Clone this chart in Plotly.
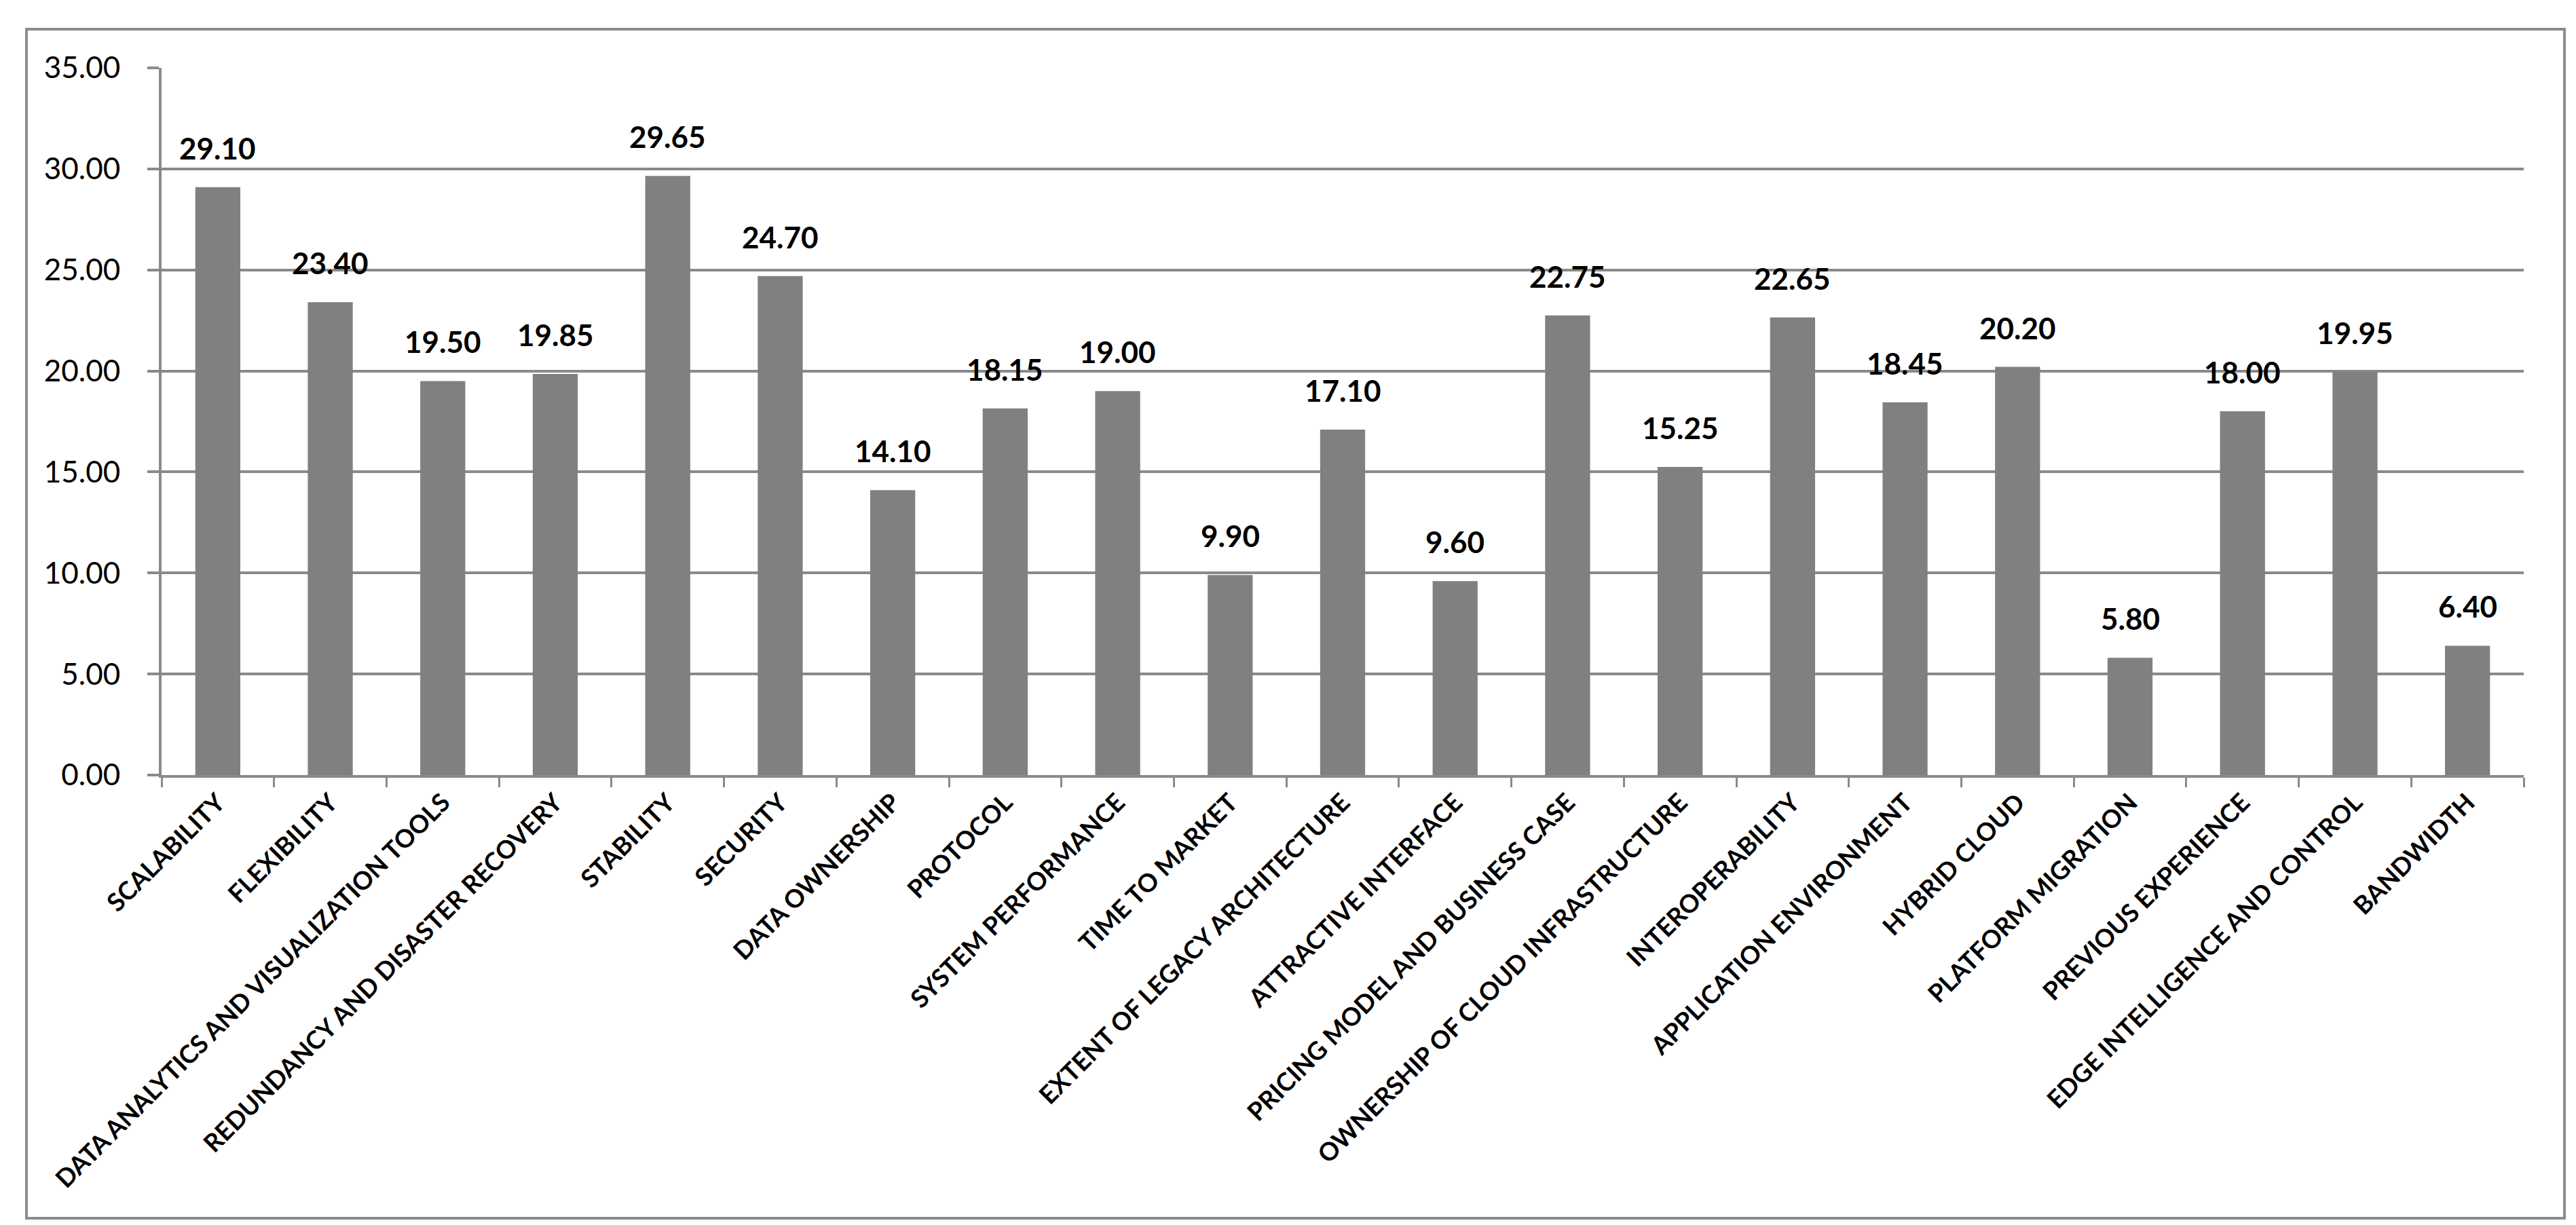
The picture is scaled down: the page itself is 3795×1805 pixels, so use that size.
import plotly.graph_objects as go

categories = [
    "SCALABILITY", "FLEXIBILITY", "DATA ANALYTICS AND VISUALIZATION TOOLS",
    "REDUNDANCY AND DISASTER RECOVERY", "STABILITY", "SECURITY", "DATA OWNERSHIP",
    "PROTOCOL", "SYSTEM PERFORMANCE", "TIME TO MARKET", "EXTENT OF LEGACY ARCHITECTURE",
    "ATTRACTIVE INTERFACE", "PRICING MODEL AND BUSINESS CASE",
    "OWNERSHIP OF CLOUD INFRASTRUCTURE", "INTEROPERABILITY", "APPLICATION ENVIRONMENT",
    "HYBRID CLOUD", "PLATFORM MIGRATION", "PREVIOUS EXPERIENCE",
    "EDGE INTELLIGENCE AND CONTROL", "BANDWIDTH",
]
values = [29.10, 23.40, 19.50, 19.85, 29.65, 24.70, 14.10, 18.15, 19.00, 9.90, 17.10,
          9.60, 22.75, 15.25, 22.65, 18.45, 20.20, 5.80, 18.00, 19.95, 6.40]
y_ticks = [0, 5, 10, 15, 20, 25, 30, 35]
y_tick_labels = ["0.00", "5.00", "10.00", "15.00", "20.00", "25.00", "30.00", "35.00"]

W, H = 3795, 1805
L, R, T, B = 230, 85, 92, 671
GRID = "#8a8a8a"
FONT = "Lato"

fig = go.Figure()
fig.add_trace(go.Bar(
    x=categories, y=values,
    marker=dict(color="#808080", line=dict(width=0)),
    showlegend=False,
))

for c, v in zip(categories, values):
    fig.add_annotation(
        x=c, y=v, text=f"{v:.2f}", showarrow=False,
        yanchor="bottom", xanchor="center", yshift=30,
        font=dict(family=FONT, size=44, color="black", weight="bold"),
    )

plot_w = W - L - R
plot_h = H - T - B


def px(xp):
    return (xp - L) / plot_w


def py(yp):
    return (H - B - yp) / plot_h


# outer chart border
fig.add_shape(type="rect", xref="paper", yref="paper",
              x0=px(31), x1=px(3770), y0=py(1787), y1=py(35),
              line=dict(color="#8c8c8c", width=4), fillcolor="rgba(0,0,0,0)", layer="below")

fig.update_layout(
    width=W, height=H,
    margin=dict(l=L, r=R, t=T, b=B, autoexpand=False),
    paper_bgcolor="white", plot_bgcolor="white",
    bargap=0.6,
    font=dict(family=FONT, color="black"),
)
fig.update_xaxes(
    type="category", tickson="boundaries",
    ticks="outside", ticklen=14, tickwidth=3, tickcolor=GRID,
    showline=True, linecolor=GRID, linewidth=4,
    showgrid=False, tickangle=-45,
    tickfont=dict(family=FONT, size=37, color="black", weight="bold"),
)
fig.update_yaxes(
    range=[0, 35], tickvals=y_ticks, ticktext=y_tick_labels,
    ticks="outside", ticklen=17, tickwidth=4, tickcolor=GRID,
    showline=True, linecolor=GRID, linewidth=4,
    showgrid=True, gridcolor=GRID, gridwidth=4, zeroline=False,
    ticklabelstandoff=31,
    tickfont=dict(family=FONT, size=44, color="black"),
)

fig.write_html("out.html")
